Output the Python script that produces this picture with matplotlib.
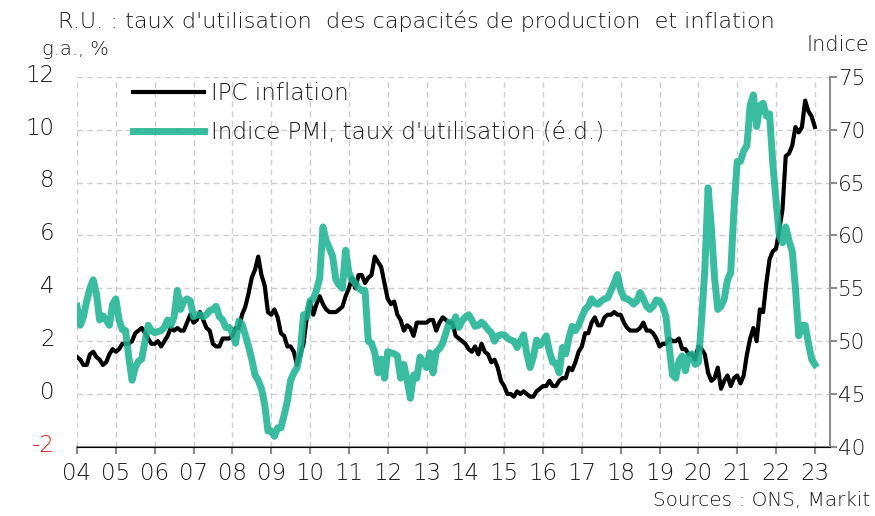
import numpy as np
import matplotlib
matplotlib.use("Agg")
import matplotlib.pyplot as plt
import matplotlib.transforms as mtransforms
from matplotlib.lines import Line2D

plt.rcParams['font.family'] = ['DejaVu Sans']
plt.rcParams['font.weight'] = 'light'

start_year = 2004
years = list(range(2004, 2024))
year_labels = [f"{y % 100:02d}" for y in years]

# UK CPI, y/y % (monthly, Jan 2004 - Jan 2023)
cpi = [
    1.4, 1.3, 1.1, 1.1, 1.5, 1.6, 1.4, 1.3, 1.1, 1.2, 1.5, 1.7,
    1.6, 1.7, 1.9, 1.9, 1.9, 2.0, 2.3, 2.4, 2.5, 2.3, 2.1, 1.9,
    1.9, 2.0, 1.8, 2.0, 2.2, 2.5, 2.4, 2.5, 2.4, 2.4, 2.7, 3.0,
    2.7, 2.8, 3.1, 2.8, 2.5, 2.4, 1.9, 1.8, 1.8, 2.1, 2.1, 2.1,
    2.2, 2.5, 2.5, 3.0, 3.3, 3.8, 4.4, 4.7, 5.2, 4.5, 4.1, 3.1,
    3.0, 3.2, 2.9, 2.3, 2.2, 1.8, 1.8, 1.6, 1.1, 1.5, 1.9, 2.9,
    3.5, 3.0, 3.4, 3.7, 3.4, 3.2, 3.1, 3.1, 3.1, 3.2, 3.3, 3.7,
    4.0, 4.4, 4.0, 4.5, 4.5, 4.2, 4.4, 4.5, 5.2, 5.0, 4.8, 4.2,
    3.6, 3.4, 3.5, 3.0, 2.8, 2.4, 2.6, 2.5, 2.2, 2.7, 2.7, 2.7,
    2.7, 2.8, 2.8, 2.4, 2.7, 2.9, 2.8, 2.7, 2.7, 2.2, 2.1, 2.0,
    1.9, 1.7, 1.6, 1.8, 1.5, 1.9, 1.6, 1.5, 1.2, 1.3, 1.0, 0.5,
    0.3, 0.0, 0.0, -0.1, 0.1, 0.0, 0.1, 0.0, -0.1, -0.1, 0.1, 0.2,
    0.3, 0.3, 0.5, 0.3, 0.3, 0.5, 0.6, 0.6, 1.0, 0.9, 1.2, 1.6,
    1.8, 2.3, 2.3, 2.7, 2.9, 2.6, 2.6, 2.9, 3.0, 3.0, 3.1, 3.0,
    3.0, 2.7, 2.5, 2.4, 2.4, 2.4, 2.5, 2.7, 2.4, 2.4, 2.3, 2.1,
    1.8, 1.9, 1.9, 2.1, 2.0, 2.0, 2.1, 1.7, 1.7, 1.5, 1.5, 1.3,
    1.8, 1.7, 1.5, 0.8, 0.5, 0.6, 1.0, 0.2, 0.5, 0.7, 0.3, 0.6,
    0.7, 0.4, 0.7, 1.5, 2.1, 2.5, 2.0, 3.2, 3.1, 4.2, 5.1, 5.4,
    5.5, 6.2, 7.0, 9.0, 9.1, 9.4, 10.1, 9.9, 10.1, 11.1, 10.7, 10.5,
    10.1,
]

# PMI capacity utilisation index (right axis), monthly
pmi = [
    53.3, 51.5, 52.3, 53.8, 55.0, 55.8, 54.5, 52.0, 52.4, 52.0, 51.5, 53.5,
    54.0, 52.0, 51.1, 51.0, 48.5, 46.3, 47.5, 48.1, 48.3, 50.0, 51.5, 51.0,
    50.8, 50.9, 51.0, 51.3, 52.0, 51.5, 52.3, 54.8, 53.0, 53.8, 54.0, 53.8,
    52.3, 52.5, 52.5, 52.3, 52.5, 52.9, 53.0, 53.3, 52.3, 52.0, 51.3, 51.3,
    50.8, 49.8, 51.9, 51.6, 50.6, 49.5, 48.3, 46.8, 46.3, 45.5, 44.0, 41.5,
    41.5, 41.0, 41.8, 41.8, 43.0, 44.3, 46.3, 47.0, 47.5, 49.0, 52.5, 52.3,
    53.8, 54.0, 54.8, 56.0, 60.8, 59.5, 58.8, 58.0, 55.8, 55.3, 55.0, 58.6,
    56.5, 55.8, 55.5, 55.0, 54.8, 54.8, 50.0, 49.8, 48.9, 47.0, 48.3, 46.5,
    49.0, 48.9, 48.8, 48.6, 46.5, 47.8, 46.3, 44.6, 46.8, 46.5, 48.5, 48.0,
    47.5, 48.9, 47.0, 49.0, 49.3, 49.8, 50.8, 51.8, 51.4, 52.3, 51.3, 51.9,
    52.3, 52.5, 52.0, 51.4, 51.5, 51.8, 51.5, 51.1, 50.8, 50.0, 50.5, 50.6,
    50.6, 50.3, 50.1, 50.0, 49.4, 50.0, 50.6, 48.8, 47.5, 48.5, 50.1, 49.6,
    50.0, 50.5, 49.0, 48.0, 47.9, 47.0, 49.4, 48.8, 50.3, 51.4, 51.0, 51.5,
    52.3, 53.0, 53.3, 54.0, 53.6, 53.5, 53.8, 54.0, 54.1, 54.8, 55.5, 56.3,
    54.8, 54.1, 54.0, 53.8, 53.5, 53.8, 54.6, 54.0, 53.3, 53.0, 53.3, 53.9,
    53.8, 53.3, 52.3, 49.4, 46.8, 46.5, 48.1, 48.6, 47.2, 48.6, 48.8, 47.8,
    48.0, 52.0, 56.8, 64.5, 60.8, 56.0, 53.0, 53.3, 54.0, 55.8, 56.5, 62.5,
    67.0, 67.0, 68.0, 68.5, 72.3, 73.3, 70.3, 72.3, 72.5, 71.3, 71.5, 66.8,
    63.3, 60.0, 59.3, 60.8, 59.5, 58.5, 55.0, 50.5, 51.5, 51.5, 49.8, 48.3,
    47.8,
]

left_ticks = [-2, 0, 2, 4, 6, 8, 10, 12]
right_ticks = [40, 45, 50, 55, 60, 65, 70, 75]

x = start_year + np.arange(len(cpi)) / 12.0

BLACK = "#000000"
TEAL = "#1fb393"
GRID = "#cfcfcf"
SPINE = "#8c8c8c"
TXT = "#1a1a1a"

fig = plt.figure(figsize=(8.75, 5.16), dpi=100)
ax = fig.add_axes([0.088, 0.134, 0.8606, 0.717])
ax2 = ax.twinx()

ax.plot(x, cpi, color=BLACK, lw=3.0, solid_joinstyle='round', zorder=3)
ax2.plot(x, pmi, color=TEAL, lw=5.0, alpha=0.88, solid_joinstyle='round', zorder=3)

ax.set_xlim(2004, 2023.39)
ax.set_ylim(-2, 12)
ax2.set_ylim(40, 75)

ax.set_yticks(left_ticks)
ax.set_yticklabels([str(v) for v in left_ticks])
ax2.set_yticks(right_ticks)
ax2.set_yticklabels([str(v) for v in right_ticks])

ax.set_xticks(years)
ax.set_xticklabels(year_labels)

ax.grid(True, which='major', color=GRID, lw=1.0, linestyle=(0, (4, 3)))
ax.set_axisbelow(True)

for a in (ax, ax2):
    a.spines['top'].set_visible(False)
    a.spines['left'].set_visible(False)
    a.spines['right'].set_visible(False)
ax.spines['bottom'].set_color(SPINE)
ax.spines['bottom'].set_linewidth(1.5)
ax2.spines['right'].set_visible(True)
ax2.spines['right'].set_color(SPINE)
ax2.spines['right'].set_linewidth(1.5)

ax.tick_params(axis='y', length=0, pad=16, labelsize=16.5)
ax.tick_params(axis='x', length=5, width=1.5, color=SPINE, pad=6, labelsize=16.5,
               labelcolor=TXT)
ax2.tick_params(axis='y', length=5, width=1.5, color=SPINE, pad=1, labelsize=15.5,
                labelcolor=TXT)

# left-axis labels sit slightly above their gridlines; negative values in red
lift = mtransforms.ScaledTranslation(0, 3 / 72, fig.dpi_scale_trans)
for lbl, v in zip(ax.get_yticklabels(), left_ticks):
    lbl.set_color("#e8221b" if v < 0 else TXT)
    lbl.set_transform(lbl.get_transform() + lift)

handles = [Line2D([], [], color=BLACK, lw=3.0),
           Line2D([], [], color=TEAL, lw=5.0, alpha=0.88)]
labels = ["IPC inflation", "Indice PMI, taux d'utilisation (é.d.)"]
leg = ax2.legend(handles, labels, loc='upper left', bbox_to_anchor=(0.074, 0.987),
                 frameon=False, fontsize=16.6, handlelength=3.1, handletextpad=0.3,
                 borderpad=0, borderaxespad=0, labelspacing=0.72)
for t in leg.get_texts():
    t.set_color(TXT)

fig.text(0.066, 0.958, "R.U. : taux d'utilisation  des capacités de production  et inflation",
         fontsize=16, ha='left', va='center', color=TXT)
fig.text(0.048, 0.905, "g.a., %", fontsize=14, ha='left', va='center', color=TXT)
fig.text(0.993, 0.913, "Indice", fontsize=15, ha='right', va='center', color=TXT)
fig.text(0.995, 0.030, "Sources : ONS, Markit", fontsize=14.4, ha='right', va='center',
         color=TXT)

fig.savefig("out.png", dpi=100)
